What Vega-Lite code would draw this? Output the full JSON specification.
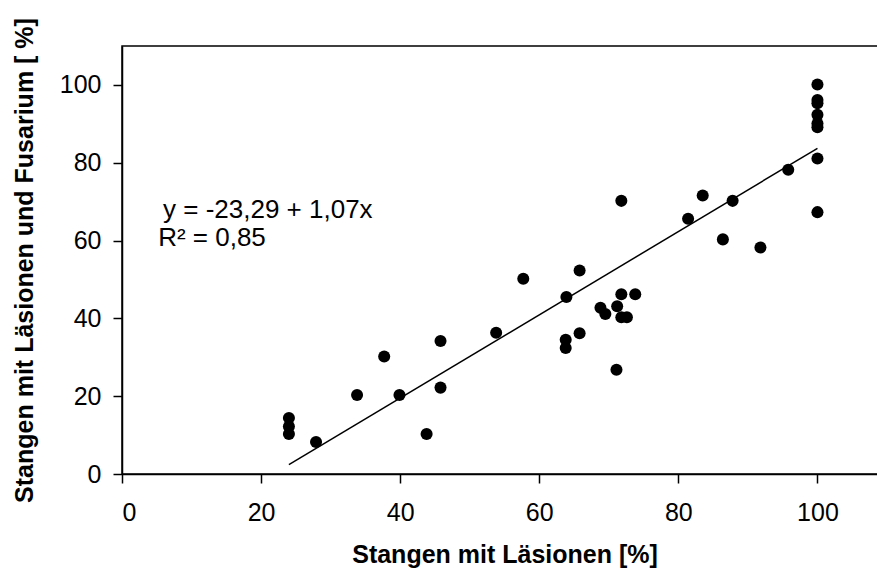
{
  "$schema": "https://vega.github.io/schema/vega-lite/v6.json",
  "autosize": {"type": "none"},
  "padding": {"left": 122, "top": 46, "right": 0, "bottom": 103},
  "width": 765,
  "height": 428,
  "background": "white",
  "config": {
    "font": "Liberation Sans",
    "view": {"stroke": "black", "strokeWidth": 1.5},
    "axis": {
      "grid": false,
      "domainColor": "black",
      "domainWidth": 1.5,
      "tickColor": "black",
      "tickWidth": 1.5,
      "tickSize": 9,
      "labelColor": "black",
      "labelFont": "Liberation Sans",
      "labelFontSize": 25,
      "titleFont": "Liberation Sans",
      "titleFontSize": 25,
      "titleFontWeight": "bold",
      "titleColor": "black"
    }
  },
  "datasets": {
    "points": [
      {"lesion": 24, "fusarium": 14.4},
      {"lesion": 24, "fusarium": 12.2},
      {"lesion": 24, "fusarium": 10.3},
      {"lesion": 27.9, "fusarium": 8.2},
      {"lesion": 33.8, "fusarium": 20.3},
      {"lesion": 37.7, "fusarium": 30.2},
      {"lesion": 39.9, "fusarium": 20.3},
      {"lesion": 43.8, "fusarium": 10.3},
      {"lesion": 45.8, "fusarium": 34.2},
      {"lesion": 45.8, "fusarium": 22.2},
      {"lesion": 53.8, "fusarium": 36.3},
      {"lesion": 57.7, "fusarium": 50.2},
      {"lesion": 63.9, "fusarium": 45.5},
      {"lesion": 65.8, "fusarium": 52.3},
      {"lesion": 63.8, "fusarium": 34.5},
      {"lesion": 63.8, "fusarium": 32.4},
      {"lesion": 65.8, "fusarium": 36.2},
      {"lesion": 68.8, "fusarium": 42.7},
      {"lesion": 69.5, "fusarium": 41.1},
      {"lesion": 71.2, "fusarium": 43.1},
      {"lesion": 71.8, "fusarium": 46.2},
      {"lesion": 71.8, "fusarium": 70.2},
      {"lesion": 71.8, "fusarium": 40.3},
      {"lesion": 72.6, "fusarium": 40.3},
      {"lesion": 71.1, "fusarium": 26.8},
      {"lesion": 73.8, "fusarium": 46.2},
      {"lesion": 81.4, "fusarium": 65.6},
      {"lesion": 83.5, "fusarium": 71.6},
      {"lesion": 86.4, "fusarium": 60.3},
      {"lesion": 87.8, "fusarium": 70.2},
      {"lesion": 91.8, "fusarium": 58.2},
      {"lesion": 95.8, "fusarium": 78.2},
      {"lesion": 100, "fusarium": 100.1},
      {"lesion": 100, "fusarium": 96.1},
      {"lesion": 100, "fusarium": 95.3},
      {"lesion": 100, "fusarium": 92.3},
      {"lesion": 100, "fusarium": 90.1},
      {"lesion": 100, "fusarium": 89.1},
      {"lesion": 100, "fusarium": 81.1},
      {"lesion": 100, "fusarium": 67.3}
    ],
    "fit": [
      {"lesion": 24, "fusarium": 2.39},
      {"lesion": 100, "fusarium": 83.71}
    ]
  },
  "layer": [
    {
      "data": {"name": "fit"},
      "mark": {"type": "line", "color": "black", "strokeWidth": 1.5},
      "encoding": {
        "x": {"field": "lesion", "type": "quantitative", "scale": {"domain": [0, 110], "nice": false}, "axis": {"values": [0, 20, 40, 60, 80, 100], "title": "Stangen mit Läsionen [%]", "labelPadding": 17, "titlePadding": 17}},
        "y": {"field": "fusarium", "type": "quantitative", "scale": {"domain": [0, 110], "nice": false}, "axis": {"values": [0, 20, 40, 60, 80, 100], "title": "Stangen mit Läsionen und Fusarium [ %]", "labelPadding": 12, "titlePadding": 22}}
      }
    },
    {
      "data": {"name": "points"},
      "mark": {"type": "point", "shape": "circle", "filled": true, "color": "black", "opacity": 1, "size": 145},
      "encoding": {
        "x": {"field": "lesion", "type": "quantitative"},
        "y": {"field": "fusarium", "type": "quantitative"}
      }
    },
    {
      "data": {"values": [{"label": "y = -23,29 + 1,07x"}]},
      "mark": {"type": "text", "align": "left", "baseline": "middle", "fontSize": 26, "color": "black", "font": "Liberation Sans"},
      "encoding": {
        "x": {"datum": 5.9},
        "y": {"datum": 67.9},
        "text": {"field": "label"}
      }
    },
    {
      "data": {"values": [{"label": "R² = 0,85"}]},
      "mark": {"type": "text", "align": "left", "baseline": "middle", "fontSize": 26, "color": "black", "font": "Liberation Sans"},
      "encoding": {
        "x": {"datum": 5.2},
        "y": {"datum": 60.6},
        "text": {"field": "label"}
      }
    }
  ]
}
